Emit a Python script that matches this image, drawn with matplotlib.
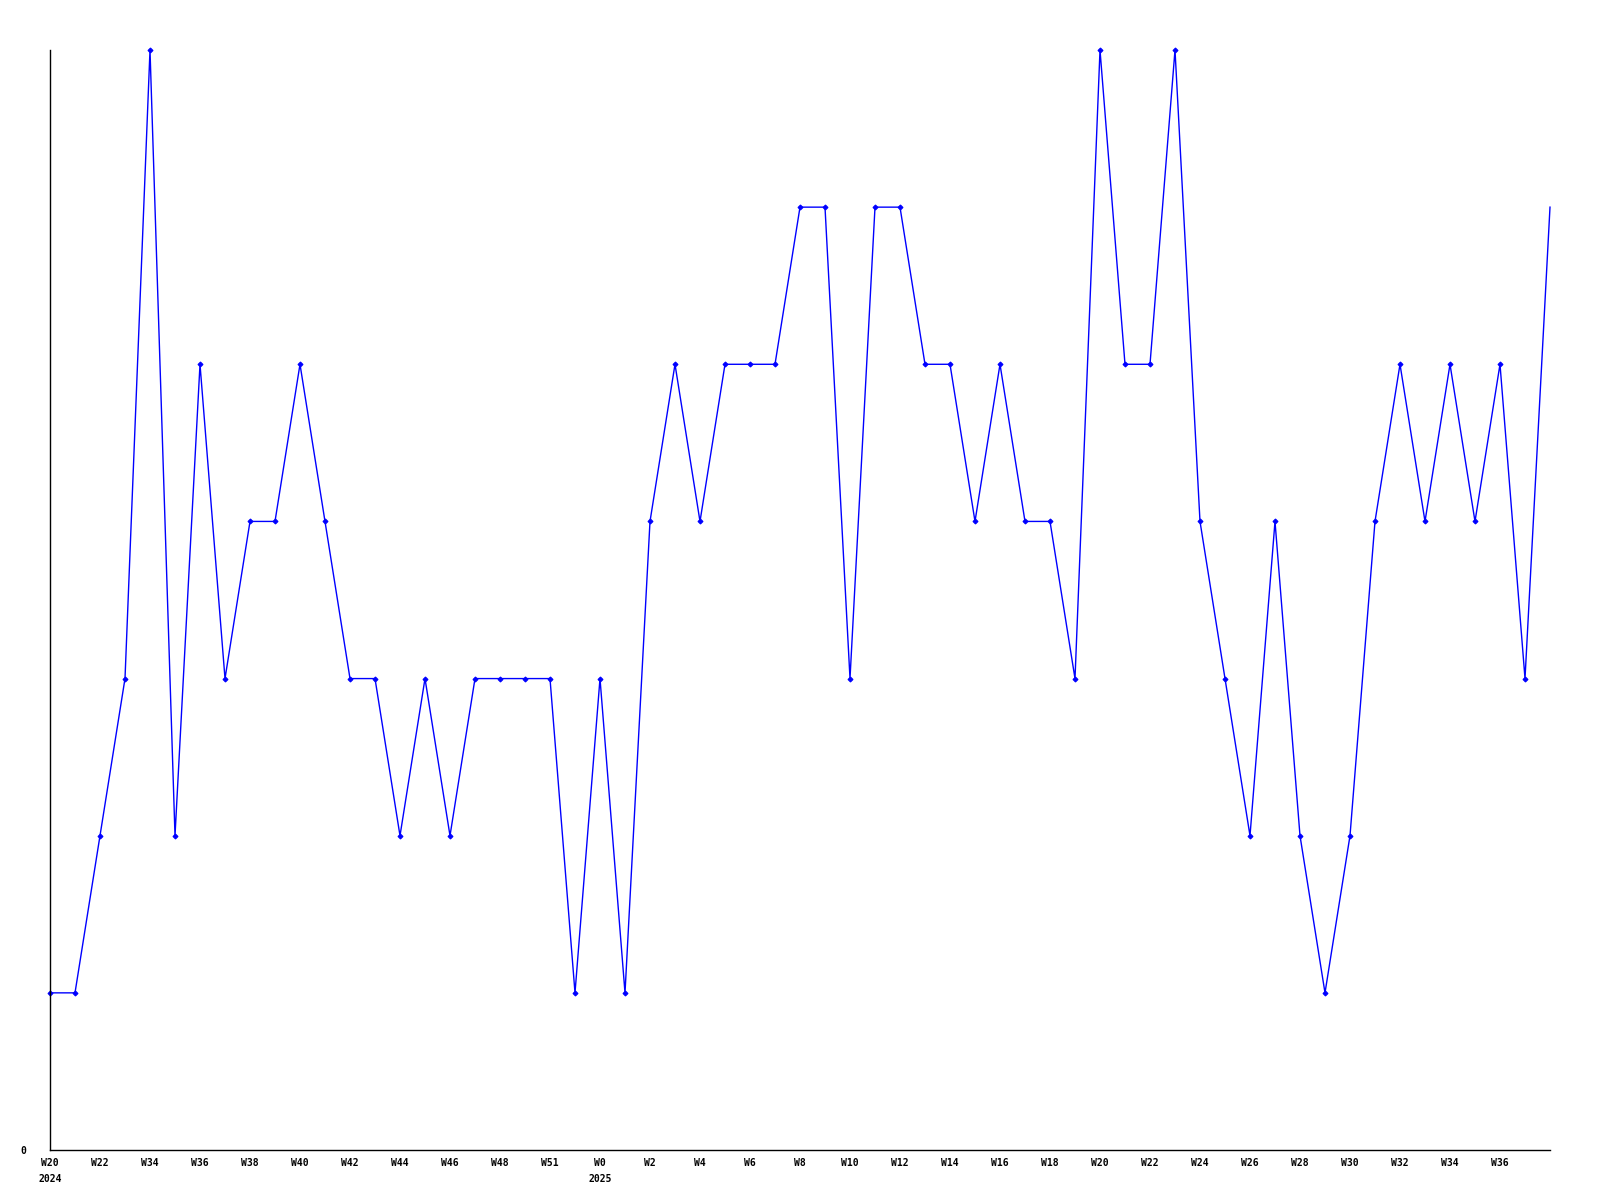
import matplotlib
matplotlib.use("Agg")
import matplotlib.pyplot as plt

weeks = ["W20", "W21", "W22", "W23",
         "W34", "W35", "W36", "W37", "W38", "W39", "W40", "W41", "W42", "W43",
         "W44", "W45", "W46", "W47", "W48", "W49", "W51", "W52",
         "W0", "W1", "W2", "W3", "W4", "W5", "W6", "W7", "W8", "W9", "W10",
         "W11", "W12", "W13", "W14", "W15", "W16", "W17", "W18", "W19", "W20",
         "W21", "W22", "W23", "W24", "W25", "W26", "W27", "W28", "W29", "W30",
         "W31", "W32", "W33", "W34", "W35", "W36", "W37", "W38"]
years = {0: "2024", 22: "2025"}
values = [1, 1, 2, 3, 7, 2, 5, 3, 4, 4, 5, 4, 3, 3, 2, 3, 2, 3, 3, 3, 3, 1,
          3, 1, 4, 5, 4, 5, 5, 5, 6, 6, 3, 6, 6, 5, 5, 4, 5, 4, 4, 3, 7, 5,
          5, 7, 4, 3, 2, 4, 2, 1, 2, 4, 5, 4, 5, 4, 5, 3, 6]

fig = plt.figure(figsize=(16, 12), dpi=100)
ax = fig.add_axes([50 / 1600, 50 / 1200, 1500 / 1600, 1100 / 1200])

x = list(range(len(values)))
ax.plot(x, values, color="#0000ff", lw=1, marker="D", ms=2.5,
        markeredgewidth=0.8, clip_on=False,
        markevery=list(range(len(values) - 1)))

ax.set_xlim(0, len(values) - 1)
ax.set_ylim(0, max(values))

tick_pos = list(range(0, len(values) - 1, 2))
labels = []
for i in tick_pos:
    lab = weeks[i]
    if i in years:
        lab += "\n" + years[i]
    labels.append(lab)
ax.set_xticks(tick_pos)
ax.set_xticklabels(labels, fontfamily="DejaVu Sans Mono", fontweight="bold",
                   fontsize=7, linespacing=1.7)
ax.set_yticks([0])
ax.set_yticklabels(["0"], fontfamily="DejaVu Sans Mono", fontweight="bold",
                   fontsize=7)
ax.tick_params(axis="both", length=0)
ax.tick_params(axis="x", pad=6)
ax.tick_params(axis="y", pad=17)
for s in ["top", "right"]:
    ax.spines[s].set_visible(False)
for s in ["left", "bottom"]:
    ax.spines[s].set_linewidth(1)
    ax.spines[s].set_color("black")

fig.savefig("out.png", dpi=100)
